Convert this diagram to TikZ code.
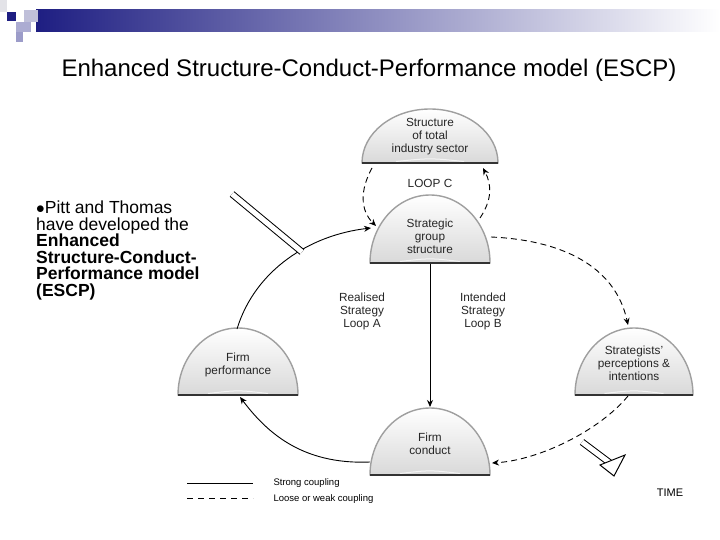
\documentclass[tikz,border=0pt]{standalone}
\usepackage{fontspec}
\setmainfont{Liberation Sans}
\usetikzlibrary{arrows.meta}
\definecolor{navy}{RGB}{30,30,130}
\begin{document}
\begin{tikzpicture}[x=1pt,y=1pt,
  dome/.style={top color=white,bottom color=gray!30,draw=gray!75,line width=1.4pt},
  lbl/.style={font=\fontsize{11.8}{13}\selectfont,align=center,text=black!85},
  conn/.style={-{Stealth[length=7pt,width=6pt]},line width=0.9pt},
  weak/.style={conn,dash pattern=on 6pt off 4pt}]
\useasboundingbox (0,0) rectangle (720,-540);
% banner
\shade[left color=navy,right color=white] (36,-10) rectangle (720,-32);
\fill[navy] (7,-12) rectangle (16,-21);
\fill[blue!25!gray!40] (24,-10) rectangle (38,-22);
\fill[blue!30!gray!50] (16,-22) rectangle (31,-32);
\fill[blue!30!gray!60] (16,-32) rectangle (23,-42);
\fill[blue!10!gray!20] (0,-0) rectangle (7,-12);
% title
\node (title) at (369,-70) {\fontsize{24}{28}\selectfont Enhanced Structure-Conduct-Performance model (ESCP)};
% left text
\node[anchor=north west,align=left,font=\fontsize{17.5}{16.5}\selectfont,inner sep=0pt] (txt) at (36,-201)
 {$\bullet$Pitt and Thomas\\ have developed the\\ \textbf{Enhanced}\\ \textbf{Structure-Conduct-}\\ \textbf{Performance model}\\ \textbf{(ESCP)}};
% domes
\newcommand{\mydome}[5]{% name, cx, base y, rx, ry
  \path[dome] (#2-#4,-#3) arc[start angle=180,end angle=0,x radius=#4,y radius=#5] -- cycle;
  \draw[line width=2pt,black!80] (#2-#4,-#3) -- (#2+#4,-#3);
  \draw[white,line width=1pt,opacity=.7] (#2-#4*0.5,-#3+1.5) .. controls (#2,-#3+5) .. (#2+#4*0.5,-#3+1.5);
}
\mydome{s}{430}{163}{68}{54}
\mydome{g}{430}{263}{60}{68}
\mydome{p}{238}{395}{60}{67}
\mydome{i}{634}{395}{59}{67}
\mydome{c}{430}{475}{60}{67}
\node[lbl] (S) at (430,-137) {Structure\\ of total\\ industry sector};
\node[lbl] (G) at (430,-236) {Strategic\\ group\\ structure};
\node[lbl] (P) at (238,-365) {Firm\\ performance};
\node[lbl] (I) at (634,-363) {Strategists'\\ perceptions \&\\ intentions};
\node[lbl] (C) at (430,-444) {Firm\\ conduct};
% anchor coordinates
\coordinate (sL) at (372,-168); \coordinate (sR) at (483,-168);
\coordinate (gL) at (376,-226); \coordinate (gR) at (480,-218);
\coordinate (gE) at (491,-237); \coordinate (gLL) at (371,-228);
\coordinate (gB) at (430,-264); \coordinate (cT) at (430,-407);
\coordinate (iT) at (628,-325); \coordinate (iB) at (628,-396);
\coordinate (cR) at (492,-463); \coordinate (cL) at (370,-462);
\coordinate (pB) at (240,-397); \coordinate (pT) at (237,-329);
% connectors
\draw[weak] (sL) .. controls (360,-190) and (360,-210) .. (gL);
\draw[weak] (gR) .. controls (492,-200) and (492,-185) .. (sR);
\draw[weak] (gE) .. controls (560,-240) and (615,-265) .. (iT);
\draw[weak] (iB) .. controls (600,-430) and (540,-460) .. (cR);
\draw[conn] (gB) -- (cT);
\draw[conn] (cL) .. controls (300,-465) and (265,-430) .. (pB);
\draw[conn] (pT) .. controls (255,-270) and (310,-235) .. (gLL);
% labels
\node[lbl] (lc) at (430,-183) {LOOP C};
\node[lbl] (la) at (362,-311) {Realised\\ Strategy\\ Loop A};
\node[lbl] (lb) at (483,-311) {Intended\\ Strategy\\ Loop B};
% double lines
\coordinate (d1) at (232,-194); \coordinate (d2) at (302,-252);
\draw[line width=1pt,double distance=5pt] (d1) -- (d2);
\coordinate (t1) at (582,-442); \coordinate (t2) at (614,-466);
\draw[line width=1pt,double distance=5pt] (t1) -- (t2);
\draw[line width=1pt,fill=white] (625,-455) -- (614,-476) -- (600,-465) -- cycle;
% legend
\coordinate (l1) at (187,-483); \coordinate (l2) at (253,-483);
\coordinate (l3) at (187,-498); \coordinate (l4) at (253,-498);
\draw[line width=1pt] (l1) -- (l2);
\draw[line width=1pt,dash pattern=on 6pt off 5pt] (l3) -- (l4);
\node[anchor=west,font=\fontsize{9.5}{11}\selectfont] (k1) at (270,-483) {Strong coupling};
\node[anchor=west,font=\fontsize{9.5}{11}\selectfont] (k2) at (270,-499) {Loose or weak coupling};
\node[font=\fontsize{11}{13}\selectfont] (time) at (670,-493) {TIME};
\end{tikzpicture}
\end{document}
